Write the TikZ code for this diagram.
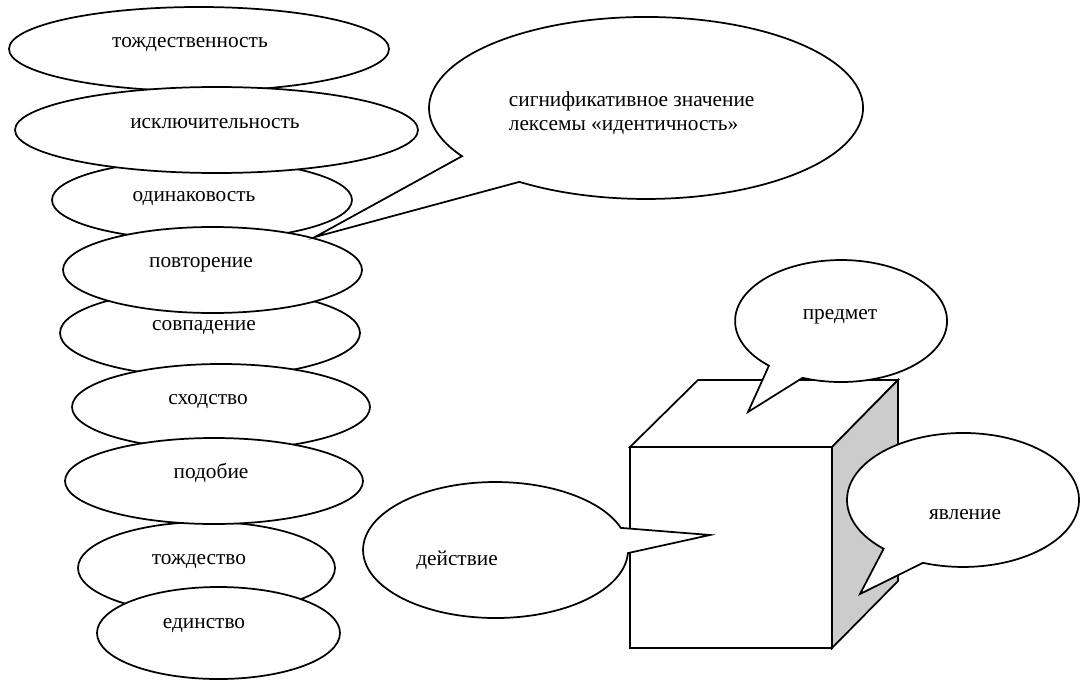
\documentclass[tikz,border=0pt]{standalone}
\usepackage{fontspec}
\setmainfont{Liberation Serif}
\usetikzlibrary{shapes.geometric}
\definecolor{cubegray}{HTML}{CCCCCC}
\begin{document}
\begin{tikzpicture}[x=0.75pt,y=-0.75pt,
  line width=1.3pt, line join=miter,
  oval/.style n args={2}{ellipse, draw=black, fill=white, inner sep=0pt,
    minimum width={1.5pt*#1}, minimum height={1.5pt*#2}},
  lbl/.style={inner sep=0pt, anchor=base, font=\fontsize{16}{18}\selectfont},
  lblw/.style={inner sep=0pt, anchor=base west, font=\fontsize{16}{18}\selectfont},
  balloon/.style={draw=black, fill=white},
  face/.style={draw=black, fill=white}]
\useasboundingbox (0,0) rectangle (1080,681);

% left stack of ellipses (paint order matters)
\node[oval={190}{42}] (e1) at (199,49) {};
\node[oval={150}{40}] (e3) at (202,200) {};
\node[oval={201.5}{43}] (e2) at (216.5,130) {};
\node[oval={150}{44}] (e5) at (210,333) {};
\node[oval={149.5}{43}] (e4) at (212.5,270) {};
\node[oval={149}{43}] (e6) at (221,407) {};
\node[oval={128.5}{46}] (e8) at (206.5,568) {};
\node[oval={149}{43}] (e7) at (214,481) {};
\node[oval={121.5}{46}] (e9) at (218.5,633) {};

% big callout
\coordinate (bigtip) at (315,237);
\draw[balloon] (bigtip) -- (462,156.2) arc[start angle=148, end angle=485.7, x radius=217, y radius=91] -- cycle;

% cube
\coordinate (f1) at (630,447);
\coordinate (f2) at (832,447);
\coordinate (f3) at (832,648);
\coordinate (f4) at (630,648);
\coordinate (b1) at (698,380);
\coordinate (b2) at (898,380);
\coordinate (b3) at (898,581);
\draw[face] (f1) -- (f2) -- (f3) -- (f4) -- cycle;
\draw[face] (f1) -- (b1) -- (b2) -- (f2) -- cycle;
\draw[draw=black, fill=cubegray] (f2) -- (b2) -- (b3) -- (f3) -- cycle;

% callouts around the cube
\coordinate (ptip) at (748,412);
\draw[balloon] (ptip) -- (768.9,365.7) arc[start angle=132.9, end angle=471.3, x radius=106, y radius=61] -- cycle;
\coordinate (ytip) at (860,594);
\draw[balloon] (ytip) -- (883.6,548.8) arc[start angle=133.2, end angle=470.2, x radius=116, y radius=67] -- cycle;
\coordinate (dtip) at (710,535);
\draw[balloon] (dtip) -- (627.9,553.1) arc[start angle=2.6, end angle=341, x radius=132.5, y radius=68] -- cycle;

% texts
\node[lbl] (t1) at (190,48) {тождественность};
\node[lbl] (t2) at (215,128) {исключительность};
\node[lbl] (t3) at (194,201) {одинаковость};
\node[lbl] (t4) at (201,267) {повторение};
\node[lbl] (t5) at (204,330) {совпадение};
\node[lbl] (t6) at (208,404) {сходство};
\node[lbl] (t7) at (211,478) {подобие};
\node[lbl] (t8) at (199,564) {тождество};
\node[lbl] (t9) at (204,628) {единство};
\node[lblw] (bt1) at (508,107) {сигнификативное значение};
\node[lblw] (bt2) at (508,131) {лексемы «идентичность»};
\node[lbl] (tp) at (840,319) {предмет};
\node[lbl] (ty) at (965,519) {явление};
\node[lbl] (td) at (457,565) {действие};
\end{tikzpicture}
\end{document}
